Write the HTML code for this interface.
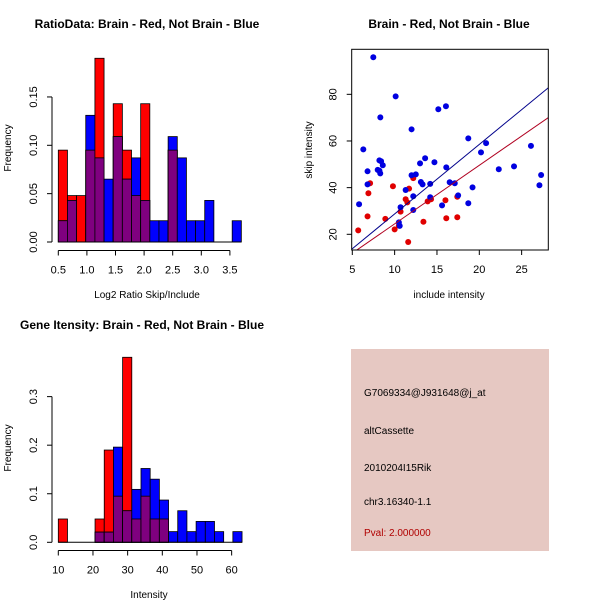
<!DOCTYPE html>
<html><head><meta charset="utf-8"><style>
body{margin:0;background:#fff;}
svg{display:block;font-family:"Liberation Sans",sans-serif;}
</style></head><body>
<svg id="c" width="600" height="600" xmlns="http://www.w3.org/2000/svg">
<rect width="600" height="600" fill="#fff"/>
<text x="147" y="28" text-anchor="middle" font-size="12" font-weight="bold">RatioData: Brain - Red, Not Brain - Blue</text>
<text x="449" y="28" text-anchor="middle" font-size="12" font-weight="bold">Brain - Red, Not Brain - Blue</text>
<text x="142" y="329" text-anchor="middle" font-size="12" font-weight="bold">Gene Itensity: Brain - Red, Not Brain - Blue</text>
<g id="g1"></g>
<g id="g2"></g>
<g id="g3"></g>
<g>
<rect x="351" y="349" width="198" height="202" fill="#e6c8c2"/>
<text x="364" y="396" font-size="10">G7069334@J931648@j_at</text>
<text x="364" y="434" font-size="10">altCassette</text>
<text x="364" y="471" font-size="10">2010204I15Rik</text>
<text x="364" y="505" font-size="10">chr3.16340-1.1</text>
<text x="364" y="536" font-size="10" fill="#b00000">Pval: 2.000000</text>
</g>
</svg>
<script>
// Ratio histogram data
const ratioBinStart = 0.5;
const ratioBinWidth = 0.16;
const ratioRed  = [0.095,0.048,0.048,0.095,0.19,0,0.143,0.095,0.048,0.143,0,0,0.095,0,0,0,0,0,0,0];
const ratioBlue = [0.022,0.043,0,0.131,0.087,0.065,0.109,0.065,0.087,0.043,0.022,0.022,0.109,0.087,0.022,0.022,0.043,0,0,0.022];
const ratioXTicks = [0.5,1.0,1.5,2.0,2.5,3.0,3.5];
const ratioYTicks = [0,0.05,0.10,0.15];
// Intensity histogram data
const intBinStart = 10;
const intBinWidth = 2.65;
const intRed  = [0.048,0,0,0,0.048,0.19,0.095,0.381,0.048,0.095,0.048,0.048,0,0,0,0,0,0,0,0];
const intBlue = [0,0,0,0,0.021,0.021,0.196,0.065,0.109,0.152,0.13,0.087,0.022,0.065,0.022,0.043,0.043,0.022,0,0.022];
const intXTicks = [10,20,30,40,50,60];
const intYTicks = [0,0.1,0.2,0.3];
// Scatter data
const blueX = [7.48,10.12,15.16,16.06,8.31,12.0,6.3,8.2,8.4,8.6,8.0,8.2,8.3,6.8,6.8,5.8,10.5,10.6,10.7,11.3,12.2,12.2,12.0,12.5,13.0,13.6,13.1,13.3,14.2,14.2,14.7,15.6,16.1,16.5,17.1,17.5,18.7,18.7,19.2,20.2,20.8,22.3,24.1,26.1,27.1,27.3];
const blueY = [95.9,79.1,73.6,74.9,70.1,65,56.4,51.7,51.3,49.6,47.6,47.3,46.1,47,41.4,32.9,25.1,23.6,31.6,39,36.3,30.4,45.3,45.7,50.4,52.6,42.4,41.4,41.6,35.9,50.9,32.4,48.7,42.3,41.9,36.7,61.1,33.3,40.1,55.1,59.1,47.9,49.1,57.9,41,45.4];
const redX = [5.7,7.1,6.9,6.8,8.9,9.8,10.0,10.5,10.7,11.3,11.5,11.7,12.2,11.6,13.4,13.9,14.3,16.0,16.1,17.4,17.4];
const redY = [21.7,41.9,37.6,27.7,26.6,40.6,22.1,23.7,29.7,35,33.7,39.6,44.1,16.7,25.4,34.1,35,34.6,26.9,36.1,27.3];
const blueFit = [-1.07, 2.98];
const redFit = [-0.63, 2.51];
const scXTicks = [5,10,15,20,25];
const scYTicks = [20,40,60,80];

const NS = "http://www.w3.org/2000/svg";
function mk(parent, tag, attrs){
  const e = document.createElementNS(NS, tag);
  for (const k in attrs) e.setAttribute(k, attrs[k]);
  parent.appendChild(e); return e;
}
function txt(parent, x, y, s, attrs){
  const t = mk(parent, 'text', Object.assign({x:x, y:y, 'font-size':11}, attrs||{}));
  t.textContent = s; return t;
}

function hist(g, start, w, red, blue, xt, yt, xs, ys, xlab, yfmt, xfmt, axisY, axisX){
  for (let i=0;i<red.length;i++){
    const x0 = xs(start+i*w), x1 = xs(start+(i+1)*w);
    const r = red[i], b = blue[i], m = Math.min(r,b);
    if (r>0){
      const e = mk(g,'rect',{x:x0,y:ys(r),width:x1-x0,height:ys(0)-ys(r),fill:'#ff0000',stroke:'#000','stroke-width':0.8});
      
      
    }
    if (b>0){
      const e = mk(g,'rect',{x:x0,y:ys(b),width:x1-x0,height:ys(0)-ys(b),fill:'#0000ff',stroke:'#000','stroke-width':0.8});
      
      
    }
    if (m>0){
      const e = mk(g,'rect',{x:x0,y:ys(m),width:x1-x0,height:ys(0)-ys(m),fill:'#7f007f',stroke:'#000','stroke-width':0.8});
      
      
    }
  }
  mk(g,'line',{x1:xs(start),x2:xs(start+red.length*w),y1:ys(0),y2:ys(0),stroke:'#000'});
  mk(g,'line',{x1:xs(xt[0]),x2:xs(xt[xt.length-1]),y1:axisY,y2:axisY,stroke:'#000'});
  xt.forEach(v=>{
    mk(g,'line',{x1:xs(v),x2:xs(v),y1:axisY,y2:axisY+5,stroke:'#000'});
    const t = txt(g, xs(v), axisY+23, xfmt(v), {'text-anchor':'middle'});
    
    
  });
  mk(g,'line',{x1:axisX,x2:axisX,y1:ys(yt[0]),y2:ys(yt[yt.length-1]),stroke:'#000'});
  yt.forEach(v=>{
    mk(g,'line',{x1:axisX-5,x2:axisX,y1:ys(v),y2:ys(v),stroke:'#000'});
    const t = txt(g, axisX-15, ys(v), yfmt(v), {'text-anchor':'middle', transform:`rotate(-90 ${axisX-15} ${ys(v)})`});
    
    
  });
}

// Plot 1
{
  const g = document.getElementById('g1');
  const xs = v => 58.3 + (v-0.5)*57.2;
  const ys = v => 242 - v*967;
  hist(g, ratioBinStart, ratioBinWidth, ratioRed, ratioBlue, ratioXTicks, ratioYTicks, xs, ys, '', v=>v.toFixed(2), v=>v.toFixed(1), 250.5, 52);
  const xl = txt(g, 147, 298, 'Log2 Ratio Skip/Include', {'text-anchor':'middle','font-size':10});
  
  
  const yl = txt(g, 11, 148, 'Frequency', {'text-anchor':'middle','font-size':10, transform:'rotate(-90 11 148)'});
  
  
}
// Plot 3
{
  const g = document.getElementById('g3');
  const xs = v => 58.3 + (v-10)*3.467;
  const ys = v => 542.3 - v*485.6;
  hist(g, intBinStart, intBinWidth, intRed, intBlue, intXTicks, intYTicks, xs, ys, '', v=>v.toFixed(1), v=>String(v), 550.5, 52);
  const xl = txt(g, 149, 598, 'Intensity', {'text-anchor':'middle','font-size':10});
  
  
  const yl = txt(g, 11, 448, 'Frequency', {'text-anchor':'middle','font-size':10, transform:'rotate(-90 11 448)'});
  
  
}
// Plot 2 scatter
{
  const g = document.getElementById('g2');
  const L=351.7,R=548.3,T=49.3,B=250;
  const xs = v => 352.3 + (v-5)*8.467;
  const ys = v => 234.3 - (v-20)*2.333;
  const cp = mk(g,'clipPath',{id:'scclip'});
  mk(cp,'rect',{x:L,y:T,width:R-L,height:B-T});
  redX.forEach((x,i)=>{
    const c = mk(g,'circle',{cx:xs(x),cy:ys(redY[i]),r:3,fill:'#e00000'});
    
    
  });
  blueX.forEach((x,i)=>{
    const c = mk(g,'circle',{cx:xs(x),cy:ys(blueY[i]),r:3,fill:'#0000e0'});
    
    
  });
  const x0=3, x1=30;
  const bl = mk(g,'line',{x1:xs(x0),y1:ys(blueFit[0]+blueFit[1]*x0),x2:xs(x1),y2:ys(blueFit[0]+blueFit[1]*x1),stroke:'#00008b','clip-path':'url(#scclip)'});
  
  
  const rl = mk(g,'line',{x1:xs(x0),y1:ys(redFit[0]+redFit[1]*x0),x2:xs(x1),y2:ys(redFit[0]+redFit[1]*x1),stroke:'#b00020','clip-path':'url(#scclip)'});
  
  
  mk(g,'rect',{x:L,y:T,width:R-L,height:B-T,fill:'none',stroke:'#000'});
  scXTicks.forEach(v=>{
    mk(g,'line',{x1:xs(v),x2:xs(v),y1:B,y2:B+5,stroke:'#000'});
    const t = txt(g, xs(v), B+23, String(v), {'text-anchor':'middle'});
    
    
  });
  scYTicks.forEach(v=>{
    mk(g,'line',{x1:L-5,x2:L,y1:ys(v),y2:ys(v),stroke:'#000'});
    const t = txt(g, L-15, ys(v), String(v), {'text-anchor':'middle', transform:`rotate(-90 ${L-15} ${ys(v)})`});
    
    
  });
  const xl = txt(g, 449, 298, 'include intensity', {'text-anchor':'middle','font-size':10});
  
  
  const yl = txt(g, 312, 150, 'skip intensity', {'text-anchor':'middle','font-size':10, transform:'rotate(-90 312 150)'});
  
  
}
</script>
</body></html>
